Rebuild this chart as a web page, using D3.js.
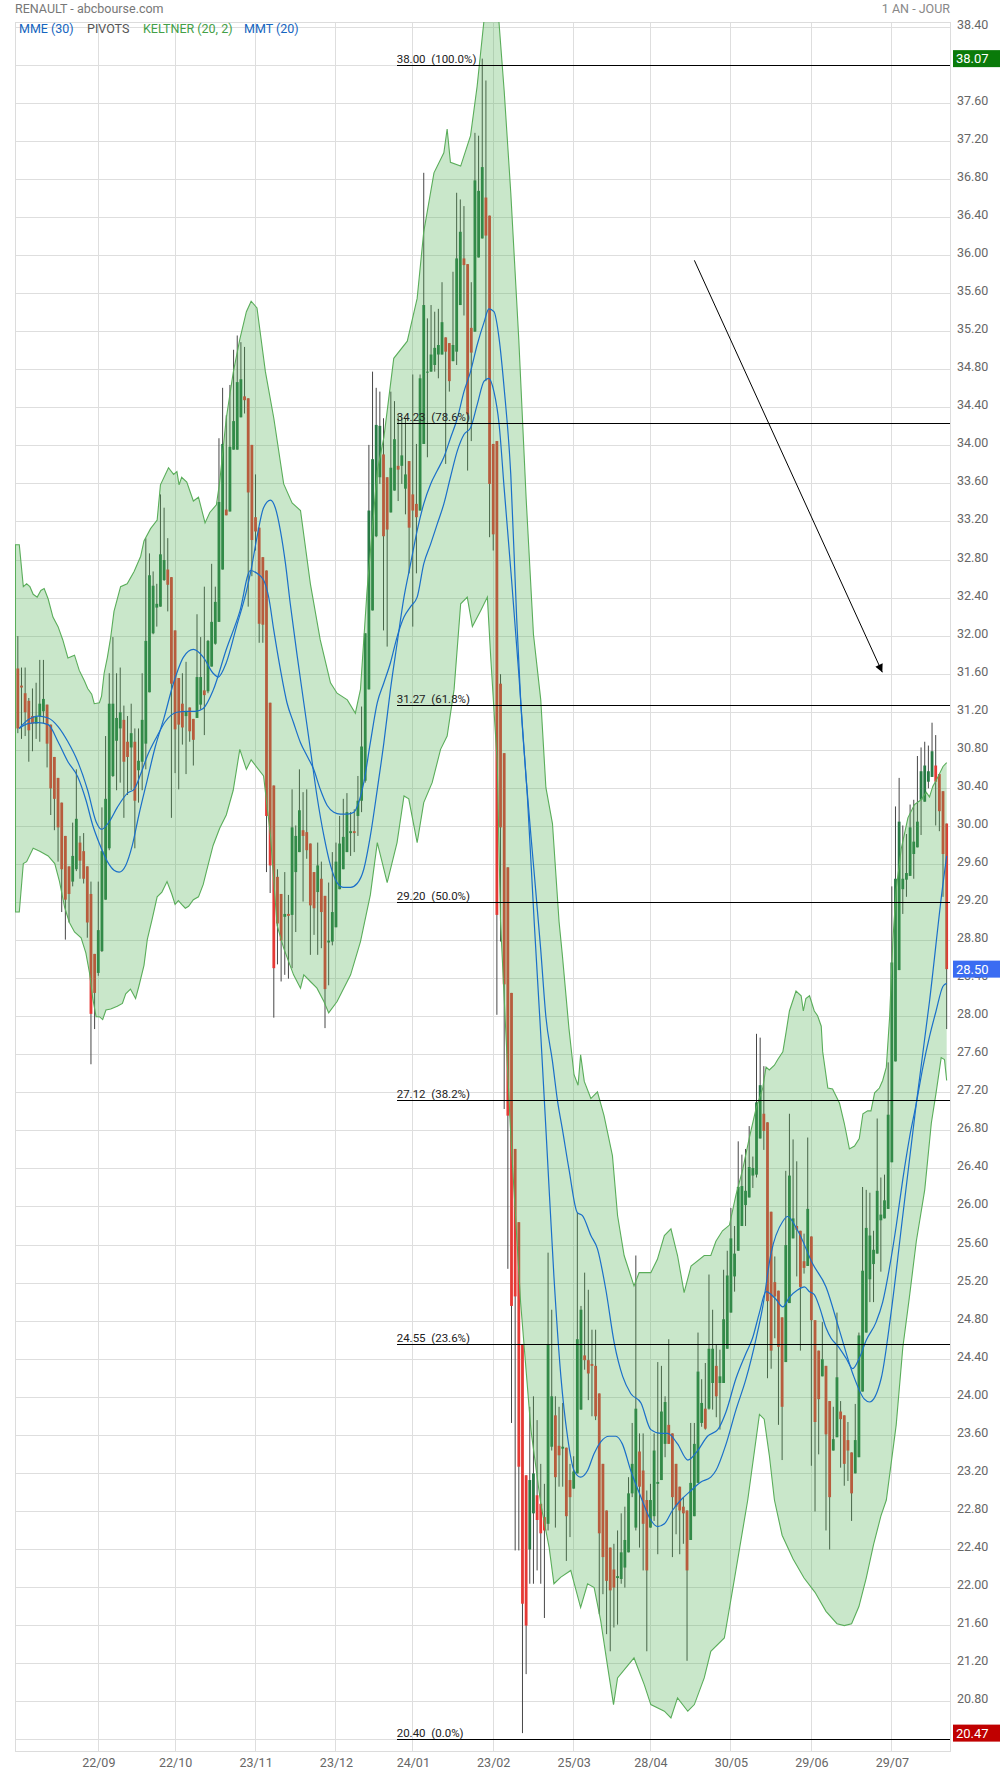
<!DOCTYPE html>
<html><head><meta charset="utf-8">
<script src="https://cdn.jsdelivr.net/npm/d3@7"></script>
<style>
body{margin:0;background:#fff;}
svg{display:block;font-family:Roboto,"Noto Sans",sans-serif;}
</style></head>
<body><svg id="chart" width="1000" height="1774"></svg>
<script>
// ---------- DATA ----------
const openP=[31.66,31.48,31.40,31.32,31.16,31.08,31.16,31.21,31.28,31.07,
30.73,30.51,30.25,29.90,29.58,29.42,29.55,29.83,29.74,29.58,
29.29,28.66,28.46,28.69,29.23,29.77,30.53,30.90,31.03,31.12,
30.89,30.83,30.89,30.59,30.68,30.87,31.41,32.03,32.30,32.31,
32.59,32.70,32.62,32.06,31.56,31.29,31.16,31.25,31.13,31.14,
31.28,31.43,31.42,31.68,31.92,32.15,32.70,33.33,33.31,33.96,
33.96,34.30,34.52,34.50,34.01,33.25,33.14,32.83,32.69,31.30,
30.43,29.47,29.29,29.05,29.08,29.07,29.52,29.73,29.96,29.94,
29.82,29.52,29.31,29.45,29.27,28.78,28.79,28.94,29.34,29.55,
29.73,29.93,29.95,30.11,30.27,30.48,31.44,32.27,33.05,33.67,
33.91,33.67,33.30,33.53,33.79,33.79,33.55,33.84,33.49,33.39,
33.32,34.02,34.78,34.78,34.85,34.96,34.96,35.14,35.08,34.89,
34.99,35.48,35.97,35.91,35.24,35.20,35.98,36.18,36.61,36.42,
34.02,34.05,31.50,30.77,29.57,28.25,26.61,25.84,24.56,23.18,
22.40,22.78,22.97,22.88,22.74,22.67,23.48,23.81,23.49,23.46,
23.47,23.13,23.04,23.20,23.87,24.44,24.39,24.35,24.33,24.04,
23.30,22.81,22.42,22.19,22.10,22.09,22.21,22.37,22.99,22.63,
23.43,23.23,22.92,22.63,22.75,23.09,23.13,23.51,23.71,23.62,
23.30,23.06,22.85,22.81,22.50,22.75,23.10,23.73,23.88,23.88,
24.15,24.33,24.15,24.15,24.51,24.89,25.27,25.54,25.80,26.02,
26.10,26.33,26.34,26.72,26.98,26.89,25.95,25.21,25.12,24.84,
24.37,24.99,25.67,25.80,25.75,25.43,25.38,25.69,24.81,24.49,
24.22,24.33,23.96,23.44,23.58,23.85,23.81,23.55,23.42,23.20,
23.37,24.06,24.68,25.24,25.40,25.51,25.86,25.88,25.98,26.47,
27.53,28.49,29.34,29.44,29.48,29.71,29.78,30.28,30.26,30.47,
30.52,30.64,30.55,30.37,30.03];
const highP=[32.00,31.67,31.67,31.35,31.45,31.51,31.75,31.75,31.28,31.07,
30.73,30.51,30.25,29.90,29.58,30.04,30.60,29.90,29.93,29.58,
29.42,28.66,29.42,30.20,30.95,31.61,31.99,31.61,31.67,31.27,
31.16,31.29,31.03,31.03,31.61,33.03,32.87,32.68,32.55,33.49,
33.35,33.03,32.62,32.06,31.56,31.61,31.73,31.25,31.13,32.23,
31.99,32.52,31.96,32.76,32.52,34.08,34.61,34.32,34.64,35.01,
35.16,35.09,35.04,34.50,34.01,33.70,33.14,32.83,32.69,31.30,
30.43,29.55,29.29,29.52,29.28,30.39,30.01,30.60,30.36,30.39,
29.82,29.52,29.83,29.63,29.27,29.41,29.73,29.83,30.11,30.29,
30.35,30.15,30.18,30.53,31.26,32.03,34.01,34.78,34.61,34.57,
34.29,33.67,34.57,34.47,34.33,34.29,34.29,33.84,34.75,34.02,
34.75,36.87,35.34,35.48,35.41,35.44,35.72,35.14,35.08,35.83,
36.66,36.59,36.52,35.91,35.72,37.29,37.26,38.07,37.84,36.42,
34.02,34.05,31.60,30.77,29.57,28.25,26.61,25.84,24.56,23.18,
23.90,24.01,23.76,23.30,23.09,25.52,24.92,24.01,23.90,23.94,
23.47,23.30,23.38,25.94,24.96,25.31,25.13,24.71,24.71,24.04,
23.30,22.81,22.42,22.46,22.60,22.78,22.85,23.16,23.73,25.49,
23.62,23.62,23.02,23.09,23.62,24.37,24.33,24.01,24.61,23.62,
23.30,23.06,22.95,22.81,23.73,23.73,24.68,24.19,24.36,25.29,
24.92,24.56,24.50,25.34,25.54,25.99,25.80,26.69,26.55,26.61,
26.85,26.53,27.82,27.78,27.48,26.89,25.95,25.48,25.12,24.84,
26.38,26.98,26.71,26.48,25.75,25.72,26.73,25.69,24.81,24.49,
24.79,24.33,23.96,23.90,24.89,23.96,23.81,23.74,23.42,23.93,
24.68,26.21,26.18,26.15,25.75,26.93,26.31,26.34,27.52,29.37,
30.21,30.51,30.01,29.92,30.23,30.28,30.74,30.83,30.89,30.85,
31.09,30.96,30.55,30.37,30.03];
const lowP=[30.98,30.92,30.95,30.68,30.79,30.92,30.89,31.08,30.62,30.12,
29.96,29.63,29.10,28.81,28.99,29.37,29.53,29.45,29.40,28.83,
27.50,27.87,28.43,28.68,29.23,29.75,30.52,30.38,30.46,30.09,
30.33,30.38,29.77,30.25,30.38,30.60,31.41,32.02,32.10,32.31,
32.58,32.26,30.09,30.56,30.39,30.86,30.55,30.89,30.64,31.14,
31.23,30.96,31.40,31.68,31.91,32.15,32.70,33.27,33.31,33.96,
33.96,34.30,34.34,32.31,32.63,32.90,31.93,31.93,29.52,29.30,
27.99,28.55,28.37,28.44,28.40,28.51,28.89,29.73,29.21,29.66,
28.65,28.86,28.65,28.72,27.88,28.33,28.75,28.94,29.34,29.55,
29.73,29.69,29.73,29.90,30.15,30.46,31.44,32.27,33.04,33.60,
32.06,31.89,33.30,33.53,33.42,33.60,33.28,32.66,32.10,32.66,
33.32,34.02,33.88,34.78,34.78,34.71,34.96,33.81,34.57,34.89,
34.85,35.48,35.37,33.74,34.05,35.20,35.98,36.18,34.68,33.04,
32.90,28.02,28.79,27.03,25.35,23.73,22.39,22.39,20.47,21.09,
22.04,22.04,22.18,22.04,21.68,22.60,23.44,22.63,23.06,23.06,
22.28,22.53,23.04,23.20,23.87,24.29,23.97,23.80,23.76,21.72,
21.93,21.51,21.33,21.58,21.61,22.04,22.00,22.37,22.95,22.60,
22.42,22.18,21.33,22.63,22.70,22.35,23.13,23.37,23.51,22.32,
22.56,22.35,22.46,21.23,22.50,22.75,23.10,23.69,23.66,23.87,
23.87,23.79,23.66,24.15,24.51,24.89,25.11,25.54,25.80,25.80,
26.10,26.20,26.31,26.72,26.60,24.20,24.30,24.62,23.71,23.34,
24.37,24.99,25.67,25.27,24.49,25.30,25.38,23.28,22.80,23.40,
24.22,22.60,22.40,23.44,23.58,23.26,23.07,23.12,22.70,23.20,
23.37,24.06,24.68,25.00,25.00,25.51,25.32,25.88,25.98,26.47,
27.53,28.49,29.08,29.26,29.48,29.45,29.78,29.91,30.26,30.40,
30.52,30.01,29.95,29.26,27.87];
const closeP=[31.03,31.46,31.20,31.01,31.08,31.15,31.29,31.34,30.87,30.40,
30.29,29.99,29.55,29.23,29.29,29.69,30.08,29.64,29.45,28.99,
28.03,28.25,28.91,29.74,30.29,31.29,31.29,31.14,31.20,30.68,
30.73,30.98,30.27,30.69,31.12,31.95,32.64,32.53,32.34,32.86,
32.80,32.54,31.50,31.02,31.07,31.04,31.21,31.00,30.91,31.57,
31.57,31.38,31.95,32.15,32.36,33.41,34.02,33.27,33.99,34.26,
34.67,34.70,34.48,33.51,33.01,33.10,32.13,32.12,30.11,29.59,
28.51,28.98,28.80,29.08,29.06,29.99,29.90,30.17,29.90,29.75,
29.17,29.14,29.59,29.10,28.29,28.80,29.10,29.63,29.82,29.89,
30.15,29.95,29.93,30.27,30.84,32.03,33.32,33.86,34.22,34.21,
33.05,33.12,33.77,34.07,33.75,33.90,33.70,33.14,33.32,33.25,
34.71,35.48,34.78,34.96,35.03,35.06,35.30,34.99,34.68,35.06,
35.97,36.25,35.90,34.33,34.98,36.79,36.68,36.93,36.21,33.60,
33.07,29.07,29.99,28.34,26.96,24.96,25.06,23.27,21.83,21.60,
23.13,23.20,22.71,22.57,22.60,24.56,24.01,23.16,23.39,23.48,
22.75,22.95,23.22,24.61,24.92,24.39,24.25,24.33,23.80,22.57,
22.32,22.07,21.97,22.00,22.12,22.37,22.50,22.99,23.30,23.88,
23.06,22.67,22.18,22.92,23.44,23.11,23.85,23.95,23.51,22.95,
22.85,22.81,22.78,22.18,23.10,23.51,24.27,23.94,23.67,24.51,
24.51,24.01,24.22,24.82,25.28,25.67,25.51,26.21,26.22,26.17,
26.42,26.41,27.10,27.28,26.80,25.01,24.49,25.06,24.53,23.90,
25.60,26.33,25.88,25.76,25.16,25.36,25.98,24.81,23.74,23.98,
24.40,23.61,22.95,23.56,24.21,23.77,23.30,23.44,22.99,23.55,
24.65,25.33,25.78,25.70,25.55,26.17,25.92,26.07,26.97,28.57,
29.45,30.05,29.45,29.51,29.99,29.84,30.05,30.58,30.64,30.58,
30.79,30.47,30.16,29.71,28.50];

// Keltner (20,2) upper / lower as [candle index, price]
const keltnerUpper=[[-0.77,32.96],[0.4,32.96],[1.5,32.52],[2.4,32.55],[3.3,32.52],[4.2,32.44],[5.3,32.41],[6.3,32.48],[7.2,32.50],[8.3,32.39],[9.6,32.20],[11,32.10],[12.3,31.96],[13.7,31.77],[15.5,31.80],[16.8,31.64],[18.2,31.53],[19.1,31.45],[20.2,31.39],[20.9,31.29],[22.3,31.30],[22.9,31.37],[23.6,31.61],[24.5,31.78],[25.4,31.99],[26.3,32.26],[28.1,32.52],[29.9,32.55],[31.8,32.68],[33.6,32.84],[34.5,33.00],[36.3,33.13],[38.1,33.22],[39,33.59],[41.2,33.77],[42.6,33.70],[43.5,33.73],[44.1,33.59],[44.8,33.67],[46.2,33.62],[48,33.42],[49.4,33.46],[51.2,33.19],[52.5,33.30],[54.3,33.38],[55.2,33.62],[57,34.29],[58.9,34.77],[60.7,35.12],[62.5,35.41],[63.8,35.52],[65.4,35.45],[67.7,34.78],[70,34.29],[72.7,33.60],[75,33.40],[77.3,33.32],[80,32.55],[82.7,31.96],[85.5,31.51],[87.3,31.40],[90.1,31.33],[92.3,31.19],[93.7,31.44],[95.5,32.48],[98.3,33.74],[100.1,34.09],[102.8,34.92],[106.5,35.10],[109.2,35.55],[111,36.25],[113.8,36.87],[116.5,37.08],[117.4,37.33],[118.3,36.98],[121.1,36.94],[123.8,37.26],[125.6,37.78],[127.5,38.48],[129,39.0],[130.2,39.1],[131.6,38.44],[133,37.73],[134.8,36.66],[137,35.11],[139,33.45],[141,32.02],[143,31.33],[144.4,30.41],[146.2,30.03],[148,29.00],[148.9,28.65],[150.7,27.88],[152.1,27.39],[153.2,27.28],[153.9,27.60],[154.9,27.32],[156.7,27.14],[158.5,27.21],[160.3,26.96],[162.6,26.54],[164,25.91],[165.8,25.49],[168.5,25.17],[169.9,25.31],[173.1,25.31],[174.9,25.45],[176.8,25.70],[178.6,25.77],[180.4,25.49],[182.2,25.10],[184.1,25.38],[187.7,25.49],[189.5,25.49],[190.9,25.64],[192.7,25.75],[194.6,25.81],[196.4,26.13],[198.2,26.39],[200,26.72],[201.9,27.04],[203.7,27.25],[204.6,27.47],[205.5,27.44],[206.9,27.49],[207.8,27.55],[209.2,27.63],[210.1,27.84],[211,28.06],[212.8,28.27],[214.2,28.22],[214.8,28.06],[215.5,28.19],[216.5,28.22],[217.8,28.06],[218.7,28.01],[219.7,27.90],[220.1,27.63],[221.5,27.25],[222.8,27.24],[224.7,27.09],[226,26.88],[227.4,26.61],[228.8,26.64],[230.1,26.72],[231.1,26.98],[232.4,27.01],[233.3,27.01],[234.3,27.20],[235.6,27.25],[236.5,27.33],[237.5,27.47],[238.4,28.00],[239.3,28.81],[240.2,29.34],[241.6,29.77],[243.4,30.09],[245.2,30.23],[247,30.28],[248.4,30.36],[249.3,30.31],[250.2,30.42],[251.6,30.52],[253,30.63],[254,30.67]];
const keltnerLower=[[-0.77,29.10],[0.4,29.10],[1.5,29.61],[2.4,29.63],[4.2,29.77],[6,29.74],[8.3,29.69],[10.1,29.61],[11.4,29.42],[12.8,29.15],[14.1,28.99],[15.5,28.89],[17.3,28.83],[18.6,28.67],[19.6,28.46],[20.5,28.19],[21.4,28.00],[22.3,28.00],[23.2,27.97],[24.1,28.07],[25.4,28.08],[27.2,28.11],[28.6,28.14],[29.5,28.24],[30.8,28.29],[32.2,28.19],[33.1,28.32],[34.5,28.54],[35.4,28.81],[36.7,29.02],[38.1,29.26],[39.4,29.31],[40.8,29.42],[42.1,29.29],[43,29.18],[43.9,29.22],[44.8,29.18],[45.8,29.14],[46.7,29.16],[48,29.23],[49.4,29.26],[50.7,29.39],[51.6,29.53],[53.4,29.80],[55.2,29.98],[57,30.12],[58.9,30.38],[60.7,30.81],[62.5,30.60],[63.8,30.70],[67.2,30.53],[69.1,29.90],[70.9,28.96],[72.7,28.72],[75.4,28.44],[77.3,28.30],[78.2,28.44],[80,28.37],[81.8,28.30],[83.7,28.16],[85,28.04],[87.3,28.16],[91,28.44],[93.7,28.79],[96.4,29.28],[98.3,29.83],[101,29.41],[103.7,29.83],[105.6,30.32],[106.9,30.29],[109.2,29.83],[111,30.25],[113.3,30.46],[115.6,30.81],[117.4,30.95],[119.3,31.44],[121.1,32.34],[122.9,32.41],[124.3,32.10],[126.6,32.27],[128.4,32.41],[129.3,31.79],[131.1,30.67],[132,29.00],[134.8,26.75],[137.5,24.99],[140.3,23.66],[143,22.88],[145.3,22.42],[146.6,22.04],[148.5,22.11],[151.2,22.18],[153.9,21.79],[155.8,22.04],[157.6,22.00],[159.4,21.65],[161.2,21.19],[162.9,20.77],[164,21.05],[168.5,21.26],[171.3,20.98],[173.1,20.77],[176.8,20.70],[178.6,20.63],[180.4,20.84],[183.2,20.70],[185,20.77],[187.7,21.05],[189.5,21.33],[193.2,21.47],[196,22.10],[199.6,22.92],[202.8,23.82],[204.1,23.77],[205.5,23.39],[206.9,22.92],[209,22.55],[212,22.30],[215,22.10],[218,21.95],[221,21.75],[224,21.62],[226,21.60],[228,21.62],[230,21.80],[232,22.10],[234,22.45],[236,22.75],[237.5,22.92],[240.2,23.71],[242,24.52],[243.8,25.05],[245.7,25.64],[248,26.18],[249.8,26.88],[251.1,27.20],[252.5,27.57],[253.4,27.55],[254,27.33]];
// MME (30)
const mme30=[[0.4,31.03],[2.8,31.12],[5.6,31.16],[8.3,31.14],[11,31.05],[13.7,30.89],[16.4,30.68],[19.1,30.38],[21.4,30.05],[22.9,29.97],[25,30.05],[27.2,30.20],[30,30.35],[31.8,30.39],[33.6,30.55],[35.4,30.74],[38.1,30.95],[40.3,31.10],[43.5,31.20],[46.2,31.21],[48.5,31.21],[50.7,31.24],[53.4,31.43],[57,31.86],[60.7,32.26],[63.6,32.69],[65.4,32.66],[67.2,32.59],[68.6,32.41],[70,32.06],[71.8,31.65],[73.6,31.30],[75.4,31.09],[77.3,30.88],[79.1,30.74],[80.9,30.60],[82.7,30.39],[84.6,30.22],[86.4,30.15],[88.2,30.13],[90.1,30.13],[91.9,30.15],[93.2,30.25],[94.6,30.46],[96.4,30.88],[98.3,31.30],[100.1,31.51],[101.9,31.72],[103.7,31.99],[105.6,32.20],[107.4,32.31],[109.2,32.41],[111,32.76],[112.9,32.97],[114.7,33.18],[116.5,33.39],[118.3,33.67],[120.2,33.95],[122,34.12],[123.8,34.19],[125.6,34.43],[127.5,34.68],[128.8,34.71],[130.2,34.57],[131.6,34.23],[133,33.55],[135,32.60],[137,31.60],[139,30.50],[141,29.60],[143,28.70],[144.4,28.00],[146.2,27.53],[147.6,27.11],[148.9,26.82],[150.7,26.40],[153,25.94],[154.4,25.91],[156.7,25.70],[158.5,25.56],[160.8,25.13],[163.1,24.57],[165.4,24.22],[167.6,24.04],[170.4,23.94],[173.1,23.66],[175.9,23.62],[177.7,23.62],[180.4,23.51],[183.2,23.34],[185.9,23.44],[188.6,23.59],[191.4,23.66],[193.6,23.84],[196.4,24.20],[199.1,24.46],[200.9,24.62],[202.8,24.89],[204.6,25.11],[207.3,25.03],[209.2,24.95],[211,25.05],[213.3,25.13],[215.1,25.16],[216.5,25.11],[217.8,25.08],[219.2,24.95],[221,24.73],[222.4,24.62],[224.2,24.54],[226.5,24.41],[228.3,24.30],[230.1,24.41],[232,24.60],[234.7,24.79],[236.5,25.00],[238.4,25.37],[240.2,25.80],[242,26.29],[243.8,26.72],[245.7,27.09],[247.5,27.47],[249.3,27.79],[251.1,28.06],[253,28.32],[254,28.35]];
// MMT (20)
const mmt20=[[0.4,31.03],[2.8,31.08],[5.6,31.09],[8.3,31.07],[11,30.89],[13.7,30.68],[16.4,30.52],[18.6,30.28],[20.5,30.01],[22.3,29.82],[24.5,29.63],[26.3,29.54],[27.7,29.52],[29.5,29.59],[31.3,29.80],[33.1,30.12],[35.4,30.49],[37.6,30.84],[39.9,31.13],[42.6,31.51],[45.3,31.78],[48,31.86],[50.7,31.78],[53.4,31.61],[54.8,31.57],[57,31.72],[59.8,32.10],[62.5,32.47],[63.8,32.70],[65.4,33.04],[67.2,33.35],[69.1,33.43],[70.4,33.35],[71.8,33.11],[73.2,32.76],[74.5,32.34],[76.4,31.79],[78.2,31.30],[80,30.81],[81.8,30.32],[83.7,29.90],[85.5,29.59],[87.3,29.41],[89.1,29.36],[91,29.36],[92.8,29.40],[94.6,29.55],[96.4,29.90],[98.3,30.39],[100.1,30.88],[101.9,31.44],[103.7,31.92],[105.6,32.41],[107.4,32.76],[109.2,33.11],[111,33.39],[112.9,33.60],[114.7,33.74],[116.5,33.88],[118.3,34.08],[120.2,34.29],[122,34.57],[123.8,34.78],[125.6,35.06],[127.5,35.30],[128.8,35.44],[130.2,35.41],[131.6,35.13],[133,34.60],[134.8,33.70],[136.4,32.20],[137.5,31.33],[139.3,30.34],[141.2,29.00],[143,27.81],[144.8,26.54],[146.6,25.27],[148.5,24.22],[150.3,23.59],[152.1,23.23],[153.9,23.16],[155.8,23.23],[157.6,23.41],[159.4,23.53],[161.7,23.59],[163.5,23.59],[165.3,23.51],[167.6,23.23],[170.4,22.95],[173.1,22.71],[174.9,22.64],[176.8,22.67],[179,22.81],[181.3,22.92],[184.1,23.02],[186.8,23.11],[189.5,23.16],[190.9,23.23],[193.6,23.50],[196.4,23.87],[199.1,24.19],[201.9,24.62],[203.7,24.95],[205.9,25.50],[209.2,25.85],[210.5,25.90],[213.3,25.75],[217.4,25.40],[221,25.16],[224.7,24.70],[228.3,24.25],[231.5,23.98],[232.9,23.95],[236.1,24.20],[238.8,24.89],[242,25.91],[245.7,27.09],[249.3,28.16],[253,29.40],[254,29.69]];

const tickIdx=[22,43,65,87,108,130,152,173,195,217,239];
const tickLabels=["22/09","22/10","23/11","23/12","24/01","23/02","25/03","28/04","30/05","29/06","29/07"];
const yTickValues=[20.40,20.80,21.20,21.60,22.00,22.40,22.80,23.20,23.60,24.00,24.40,24.80,25.20,25.60,26.00,26.40,26.80,27.20,27.60,28.00,28.40,28.80,29.20,29.60,30.00,30.40,30.80,31.20,31.60,32.00,32.40,32.80,33.20,33.60,34.00,34.40,34.80,35.20,35.60,36.00,36.40,36.80,37.20,37.60,38.00,38.40];
const fibLevels=[38.00,34.23,31.27,29.20,27.12,24.55,20.40];
const fibPercents=["100.0%","78.6%","61.8%","50.0%","38.2%","23.6%","0.0%"];
const fibStartIndex=103.6;
const arrowPoints=[[185.0,35.95],[236.4,31.62]];
const priceTagValues=[38.07,28.50,20.47];
const priceTagColors=["#0a7a0a","#3b6cf2","#c00000"];
const legendItems=["MME (30)","PIVOTS","KELTNER (20, 2)","MMT (20)"];
const legendColors=["#1565c0","#555","#43a047","#1565c0"];

// ---------- LAYOUT ----------
const N=closeP.length;
const L=15,R=950,T=22,B=1751;
const svg=d3.select("#chart");
const x=d3.scaleBand().domain(d3.range(N)).range([16,948.5]);
const bw=x.bandwidth();
const xL=d3.scaleLinear().domain([0,N-1]).range([x(0)+bw/2,x(N-1)+bw/2]);
const y=d3.scaleLinear().domain([20.282,38.455]).range([B,T]);

svg.append("defs").html(
 `<clipPath id="plotClip"><rect x="${L}" y="${T}" width="${R-L}" height="${B-T}"/></clipPath>
  <marker id="ah" viewBox="0 0 10 10" refX="10" refY="5" markerWidth="10" markerHeight="8" orient="auto"><path d="M0,0L10,5L0,10z" fill="#000"/></marker>`);

// grid
const grid=svg.append("g");
grid.selectAll("line.h").data(yTickValues).join("line")
 .attr("x1",L).attr("x2",R).attr("y1",d=>y(d)).attr("y2",d=>y(d))
 .attr("stroke","#dedede").attr("stroke-width",1).attr("shape-rendering","crispEdges");
grid.selectAll("line.v").data(tickIdx).join("line")
 .attr("x1",d=>xL(d)).attr("x2",d=>xL(d)).attr("y1",T).attr("y2",B)
 .attr("stroke","#dedede").attr("stroke-width",1).attr("shape-rendering","crispEdges");
svg.append("rect").attr("x",L).attr("y",T).attr("width",R-L).attr("height",B-T)
 .attr("fill","none").attr("stroke","#dcdcdc").attr("shape-rendering","crispEdges");

const plot=svg.append("g").attr("clip-path","url(#plotClip)");

// candles
const cg=plot.append("g");
const idx=d3.range(N);
cg.selectAll("line.w").data(idx).join("line")
 .attr("x1",i=>xL(i)).attr("x2",i=>xL(i))
 .attr("y1",i=>y(Math.max(highP[i],openP[i],closeP[i])))
 .attr("y2",i=>y(Math.min(lowP[i],openP[i],closeP[i])))
 .attr("stroke","#474747").attr("stroke-width",1);
cg.selectAll("rect").data(idx).join("rect")
 .attr("x",i=>xL(i)-1.4).attr("width",2.8)
 .attr("y",i=>y(Math.max(openP[i],closeP[i])))
 .attr("height",i=>Math.max(1,Math.abs(y(openP[i])-y(closeP[i]))))
 .attr("fill",i=>closeP[i]>=openP[i]?"#277a45":"#e53935");

// keltner band
const pt=p=>[xL(p[0]),y(p[1])];
const poly=keltnerUpper.map(pt).concat(keltnerLower.slice().reverse().map(pt));
plot.append("path").attr("d",d3.line()(poly)+"Z")
 .attr("fill","rgba(76,175,80,0.30)").attr("stroke","none");
const lineGen=d3.line().x(p=>xL(p[0])).y(p=>y(p[1]));
plot.append("path").attr("d",lineGen(keltnerUpper)).attr("fill","none").attr("stroke","#5aad5a").attr("stroke-width",1.1);
plot.append("path").attr("d",lineGen(keltnerLower)).attr("fill","none").attr("stroke","#5aad5a").attr("stroke-width",1.1);
plot.append("line").attr("x1",xL(keltnerUpper[0][0])).attr("x2",xL(keltnerLower[0][0]))
 .attr("y1",y(keltnerUpper[0][1])).attr("y2",y(keltnerLower[0][1]))
 .attr("stroke","#5aad5a").attr("stroke-width",2);

// moving averages
plot.append("path").attr("d",lineGen.curve(d3.curveMonotoneX)(mme30)).attr("fill","none").attr("stroke","#1a6fc9").attr("stroke-width",1.2);
plot.append("path").attr("d",lineGen.curve(d3.curveMonotoneX)(mmt20)).attr("fill","none").attr("stroke","#1a6fc9").attr("stroke-width",1.2);

// fibonacci levels
const fg=svg.append("g");
fg.selectAll("line").data(fibLevels).join("line")
 .attr("x1",xL(fibStartIndex)).attr("x2",R).attr("y1",d=>y(d)).attr("y2",d=>y(d))
 .attr("stroke","#000").attr("stroke-width",1).attr("shape-rendering","crispEdges");
fg.selectAll("text").data(fibLevels).join("text")
 .attr("x",xL(fibStartIndex)).attr("y",d=>y(d)-2.5)
 .attr("font-size","11.5px").attr("fill","#222").attr("xml:space","preserve")
 .style("white-space","pre")
 .text((d,i)=>d.toFixed(2)+"  ("+fibPercents[i]+")");

// arrow
svg.append("line")
 .attr("x1",xL(arrowPoints[0][0])).attr("y1",y(arrowPoints[0][1]))
 .attr("x2",xL(arrowPoints[1][0])).attr("y2",y(arrowPoints[1][1]))
 .attr("stroke","#000").attr("stroke-width",1).attr("marker-end","url(#ah)");

// y axis labels
const ya=svg.append("g").attr("transform",`translate(${R},0)`)
 .call(d3.axisRight(y).tickValues(yTickValues.filter(v=>v>20.5)).tickSize(0).tickPadding(7).tickFormat(d3.format(".2f")));
ya.select(".domain").remove();
ya.selectAll("text").attr("fill","#666").attr("font-size","12.5px").attr("font-family","Roboto").attr("dy","0.08em");

// x axis labels
const xa=svg.append("g").attr("transform",`translate(0,${B})`)
 .call(d3.axisBottom(xL).tickValues(tickIdx).tickSize(0).tickPadding(7).tickFormat((d,i)=>tickLabels[i]));
xa.select(".domain").remove();
xa.selectAll("text").attr("fill","#666").attr("font-size","12.5px").attr("font-family","Roboto");

// price tags
const tg=svg.append("g");
priceTagValues.forEach((v,i)=>{
 tg.append("rect").attr("x",R+3).attr("y",y(v)-8.5).attr("width",47).attr("height",17).attr("fill",priceTagColors[i]);
 tg.append("text").attr("x",R+6).attr("y",y(v)).attr("dy","0.36em").attr("fill","#fff")
  .attr("font-size","13px").text(v.toFixed(2));
});

// header + legend
svg.append("text").attr("x",L).attr("y",8.5).attr("dy","0.35em").attr("fill","#777").attr("font-size","12.5px").text("RENAULT - abcbourse.com");
svg.append("text").attr("x",R).attr("y",8.5).attr("dy","0.35em").attr("text-anchor","end").attr("fill","#888").attr("font-size","12.5px").text("1 AN - JOUR");
const legX=[19,87,143,244];
legendItems.forEach((t,i)=>{
 svg.append("text").attr("x",legX[i]).attr("y",29).attr("dy","0.35em").attr("fill",legendColors[i]).attr("font-size","12.5px").text(t);
});
</script></body></html>
